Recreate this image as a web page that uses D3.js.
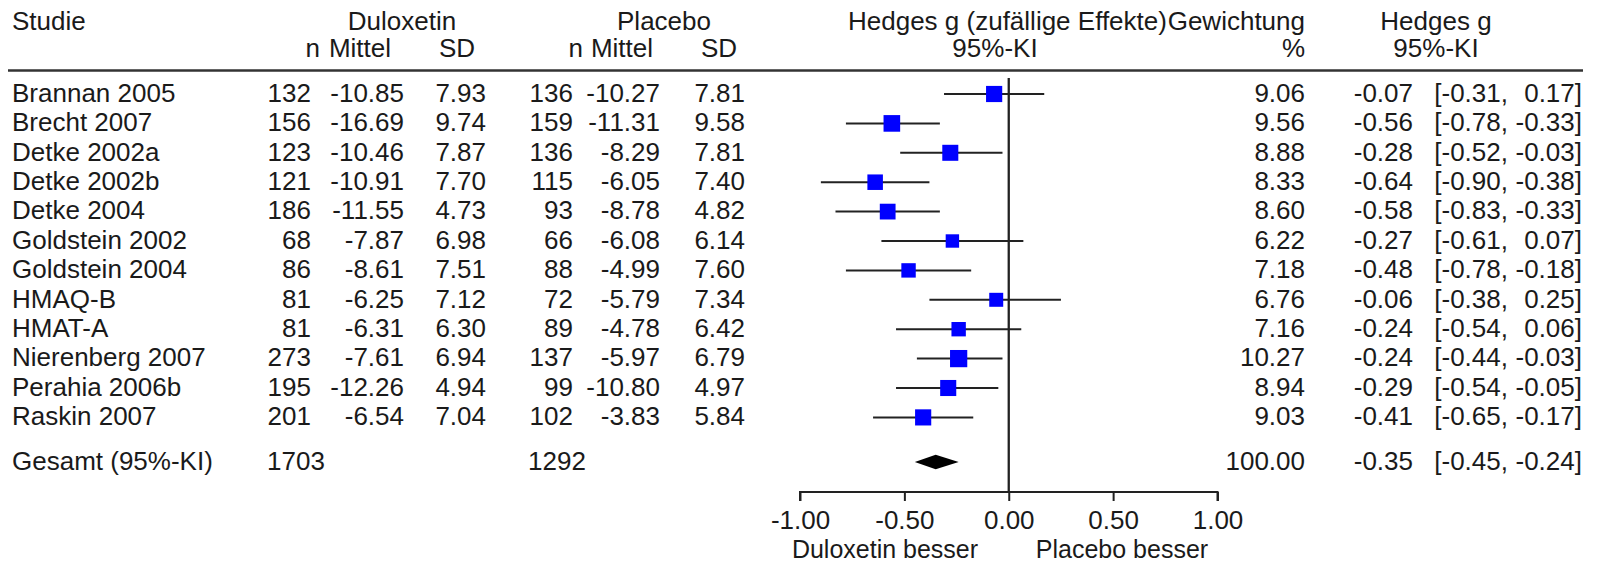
<!DOCTYPE html>
<html>
<head>
<meta charset="utf-8">
<script src="https://cdn.jsdelivr.net/npm/d3@7"></script>
<style>
  body { margin: 0; background: #fff; }
  svg text { font-family: "Liberation Sans", Arial, sans-serif; font-size: 26px; fill: #1a1a1a; }
</style>
</head>
<body>
<svg id="chart" width="1599" height="563"></svg>
<script>
// study table
const studies = ["Brannan 2005", "Brecht 2007", "Detke 2002a", "Detke 2002b", "Detke 2004",
  "Goldstein 2002", "Goldstein 2004", "HMAQ-B", "HMAT-A", "Nierenberg 2007", "Perahia 2006b", "Raskin 2007"];
const dulN = [132, 156, 123, 121, 186, 68, 86, 81, 81, 273, 195, 201];
const dulMean = [-10.85, -16.69, -10.46, -10.91, -11.55, -7.87, -8.61, -6.25, -6.31, -7.61, -12.26, -6.54];
const dulSD = [7.93, 9.74, 7.87, 7.70, 4.73, 6.98, 7.51, 7.12, 6.30, 6.94, 4.94, 7.04];
const plaN = [136, 159, 136, 115, 93, 66, 88, 72, 89, 137, 99, 102];
const plaMean = [-10.27, -11.31, -8.29, -6.05, -8.78, -6.08, -4.99, -5.79, -4.78, -5.97, -10.80, -3.83];
const plaSD = [7.81, 9.58, 7.81, 7.40, 4.82, 6.14, 7.60, 7.34, 6.42, 6.79, 4.97, 5.84];
const weights = [9.06, 9.56, 8.88, 8.33, 8.60, 6.22, 7.18, 6.76, 7.16, 10.27, 8.94, 9.03];
const hedgesG = [-0.07, -0.56, -0.28, -0.64, -0.58, -0.27, -0.48, -0.06, -0.24, -0.24, -0.29, -0.41];
const ciLow = [-0.31, -0.78, -0.52, -0.90, -0.83, -0.61, -0.78, -0.38, -0.54, -0.44, -0.54, -0.65];
const ciHigh = [0.17, -0.33, -0.03, -0.38, -0.33, 0.07, -0.18, 0.25, 0.06, -0.03, -0.05, -0.17];

// pooled result
const totalLabel = "Gesamt (95%-KI)";
const totalN = [1703, 1292];
const totalWeight = 100.00;
const totalG = -0.35;
const totalCI = [-0.45, -0.24];

const xTicks = [-1, -0.5, 0, 0.5, 1];

const svg = d3.select("#chart");
const f2 = v => v.toFixed(2);

const x = d3.scaleLinear().domain([-1, 1]).range([800, 1217.5]);
const y = d3.scalePoint().domain(studies).range([94, 94 + 29.4 * 11]);
const yTotal = 462;
const size = d3.scaleSqrt().domain([0, 10]).range([0, 17]);

// header
const h1 = 30, h2 = 57;
const head = [
  ["Studie", 12, h1, "start"],
  ["Duloxetin", 402, h1, "middle"],
  ["Placebo", 664, h1, "middle"],
  ["n", 320, h2, "end"], ["Mittel", 391, h2, "end"], ["SD", 475, h2, "end"],
  ["n", 583, h2, "end"], ["Mittel", 653, h2, "end"], ["SD", 737, h2, "end"],
  ["Hedges g (zufällige Effekte)", 848, h1, "start"],
  ["95%-KI", 995, h2, "middle"],
  ["Gewichtung", 1305, h1, "end"],
  ["%", 1305, h2, "end"],
  ["Hedges g", 1436, h1, "middle"],
  ["95%-KI", 1436, h2, "middle"]
];
svg.append("g").selectAll("text").data(head).join("text")
  .attr("x", d => d[1]).attr("y", d => d[2])
  .attr("text-anchor", d => d[3]).text(d => d[0]);

svg.append("line").attr("x1", 8).attr("x2", 1583).attr("y1", 70.5).attr("y2", 70.5)
  .attr("stroke", "#333").attr("stroke-width", 2.5);

// table columns
const cols = [
  [studies, 12, "start", d => d],
  [dulN, 311, "end", d => d],
  [dulMean, 404, "end", f2],
  [dulSD, 486, "end", f2],
  [plaN, 573, "end", d => d],
  [plaMean, 660, "end", f2],
  [plaSD, 745, "end", f2],
  [weights, 1305, "end", f2],
  [hedgesG, 1413, "end", f2],
  [ciLow.map(v => `[${f2(v)},`), 1508, "end", d => d],
  [ciHigh.map(v => `${f2(v)}]`), 1582, "end", d => d]
];
cols.forEach(([vals, cx, anchor, fmt]) => {
  svg.append("g").selectAll("text").data(vals).join("text")
    .attr("x", cx).attr("y", (d, i) => y(studies[i])).attr("dy", "0.3em")
    .attr("text-anchor", anchor).text(fmt);
});

// total row
const totalRow = [
  [totalLabel, 12, "start"],
  [totalN[0], 267, "start"],
  [totalN[1], 528, "start"],
  [f2(totalWeight), 1305, "end"],
  [f2(totalG), 1413, "end"],
  [`[${f2(totalCI[0])},`, 1508, "end"],
  [`${f2(totalCI[1])}]`, 1582, "end"]
];
svg.append("g").selectAll("text").data(totalRow).join("text")
  .attr("x", d => d[1]).attr("y", yTotal).attr("dy", "0.3em")
  .attr("text-anchor", d => d[2]).text(d => d[0]);

// zero line
svg.append("line").attr("x1", x(0)).attr("x2", x(0)).attr("y1", 78).attr("y2", 492)
  .attr("stroke", "#222").attr("stroke-width", 2.3);

// CI lines and squares
const forest = svg.append("g");
forest.selectAll("line").data(studies).join("line")
  .attr("x1", (d, i) => x(ciLow[i])).attr("x2", (d, i) => x(ciHigh[i]))
  .attr("y1", d => y(d)).attr("y2", d => y(d))
  .attr("stroke", "#222").attr("stroke-width", 2);
forest.selectAll("rect").data(studies).join("rect")
  .attr("x", (d, i) => x(hedgesG[i]) - size(weights[i]) / 2)
  .attr("y", (d, i) => y(d) - size(weights[i]) / 2)
  .attr("width", (d, i) => size(weights[i]))
  .attr("height", (d, i) => size(weights[i]))
  .attr("fill", "#0000ff");

// pooled diamond
svg.append("path")
  .attr("d", `M${x(totalCI[0])},${yTotal} L${x(totalG)},${yTotal - 7.3} L${x(totalCI[1])},${yTotal} L${x(totalG)},${yTotal + 7.3} Z`)
  .attr("fill", "#000");

// axis
const axis = svg.append("g").attr("transform", "translate(0,492)")
  .call(d3.axisBottom(x).tickValues(xTicks).tickFormat(f2).tickSize(9).tickPadding(10));
axis.select(".domain").attr("stroke", "#222").attr("stroke-width", 2)
  .attr("d", `M${x(-1)},9V0H${x(1)}V9`);
axis.selectAll(".tick line").attr("stroke", "#222").attr("stroke-width", 2);
axis.selectAll(".tick text").style("font-size", "26px").attr("fill", "#1a1a1a");

svg.append("text").attr("x", 885).attr("y", 557.5).attr("text-anchor", "middle")
  .style("font-size", "25px").text("Duloxetin besser");
svg.append("text").attr("x", 1122).attr("y", 557.5).attr("text-anchor", "middle")
  .style("font-size", "25px").text("Placebo besser");
</script>
</body>
</html>
